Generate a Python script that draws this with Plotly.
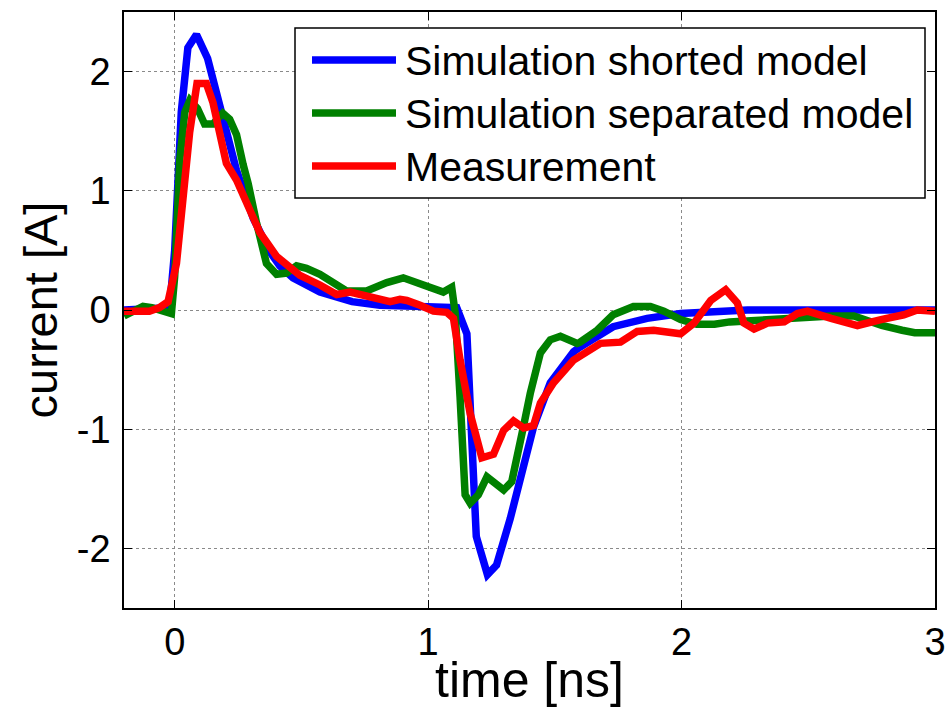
import plotly.graph_objects as go

# ---- data: current waveforms [A] versus time [ns] ----
t_shorted = [-0.2, -0.02, 0.0, 0.026, 0.052, 0.086, 0.13, 0.178, 0.244, 0.31, 0.375,
             0.415, 0.467, 0.573, 0.613, 0.70, 0.81, 1.0, 1.113, 1.153, 1.19, 1.234,
             1.27, 1.324, 1.376, 1.416, 1.482, 1.574, 1.6, 1.68, 1.73, 1.864, 1.996,
             2.26, 3.0]
i_shorted = [0.0, 0.02, 0.5, 1.66, 2.2, 2.31, 2.11, 1.72, 1.17, 0.77, 0.49,
             0.37, 0.27, 0.15, 0.12, 0.07, 0.04, 0.02, 0.02, -0.2, -1.9, -2.22,
             -2.14, -1.75, -1.31, -0.98, -0.61, -0.35, -0.31, -0.2, -0.14, -0.07, -0.03,
             0.0, 0.0]

t_separated = [-0.2, -0.16, -0.125, -0.09, -0.06, -0.047, -0.013, 0.0, 0.02, 0.04, 0.06,
               0.09, 0.118, 0.151, 0.19, 0.217, 0.244, 0.27, 0.29, 0.323, 0.362, 0.402,
               0.441, 0.481, 0.52, 0.573, 0.625, 0.678, 0.757, 0.837, 0.902, 0.942,
               0.995, 1.034, 1.06, 1.093, 1.107, 1.126, 1.146, 1.166, 1.198, 1.232,
               1.265, 1.298, 1.33, 1.357, 1.376, 1.403, 1.443, 1.482, 1.522, 1.588,
               1.6, 1.667, 1.73, 1.81, 1.877, 1.93, 1.996, 2.06, 2.13, 2.19, 2.32,
               2.457, 2.59, 2.68, 2.79, 2.87, 2.92, 3.0]
i_separated = [-0.05, 0.0, 0.03, 0.02, 0.0, -0.01, -0.03, 0.28, 1.26, 1.66, 1.76,
               1.69, 1.56, 1.56, 1.65, 1.6, 1.47, 1.22, 1.06, 0.73, 0.39, 0.3,
               0.31, 0.37, 0.35, 0.3, 0.23, 0.16, 0.16, 0.23, 0.27, 0.24,
               0.21, 0.18, 0.15, 0.19, -0.03, -0.73, -1.55, -1.62, -1.55, -1.4,
               -1.45, -1.51, -1.44, -1.2, -0.98, -0.7, -0.36, -0.25, -0.22, -0.28,
               -0.27, -0.17, -0.04, 0.03, 0.03, -0.01, -0.08, -0.12, -0.12, -0.1, -0.08,
               -0.06, -0.05, -0.05, -0.13, -0.17, -0.19, -0.19]

t_measured = [-0.2, -0.1, -0.06, -0.026, 0.007, 0.033, 0.059, 0.088, 0.125, 0.151, 0.178,
              0.204, 0.244, 0.283, 0.336, 0.402, 0.441, 0.481, 0.494, 0.573, 0.639,
              0.692, 0.771, 0.85, 0.889, 0.916, 0.968, 1.021, 1.074, 1.1, 1.126,
              1.166, 1.212, 1.258, 1.298, 1.337, 1.377, 1.416, 1.443, 1.495, 1.574,
              1.627, 1.68, 1.759, 1.825, 1.89, 1.996, 2.049, 2.115, 2.174, 2.22,
              2.246, 2.286, 2.339, 2.405, 2.457, 2.497, 2.59, 2.694, 2.787, 2.877,
              2.93, 3.0]
i_measured = [-0.01, -0.01, 0.02, 0.07, 0.39, 0.95, 1.49, 1.9, 1.9, 1.74, 1.49,
              1.23, 1.09, 0.9, 0.65, 0.45, 0.38, 0.31, 0.29, 0.21, 0.13,
              0.15, 0.11, 0.07, 0.09, 0.08, 0.04, -0.01, -0.02, -0.07, -0.42,
              -0.87, -1.24, -1.21, -1.01, -0.93, -0.99, -0.97, -0.78, -0.61, -0.42,
              -0.35, -0.28, -0.27, -0.18, -0.17, -0.2, -0.11, 0.08, 0.17, 0.06,
              -0.11, -0.16, -0.11, -0.1, -0.03, -0.01, -0.07, -0.13, -0.08, -0.04,
              0.0, -0.01]

series_names = ["Simulation shorted model", "Simulation separated model", "Measurement"]
series_colors = ["#0000ff", "#008000", "#ff0000"]

x_ticks = [0, 1, 2, 3]
y_ticks = [-2, -1, 0, 1, 2]
x_title = "time [ns]"
y_title = "current [A]"

FONT = "Liberation Sans, Arial, sans-serif"
LINE_W = 7.5

fig = go.Figure()
for t, i, name, col in zip([t_shorted, t_separated, t_measured],
                           [i_shorted, i_separated, i_measured],
                           series_names, series_colors):
    fig.add_trace(go.Scatter(x=t, y=i, mode="lines", name=name,
                             line=dict(color=col, width=LINE_W),
                             showlegend=False))

axis_common = dict(
    showline=True, linecolor="black", linewidth=1.5, mirror="allticks",
    ticks="inside", ticklen=8, tickwidth=1.2, tickcolor="black",
    showgrid=True, gridcolor="#8a8a8a", gridwidth=1, griddash="dot",
    zeroline=False, tickfont=dict(family=FONT, size=38, color="black"),
    automargin=False,
)

fig.update_xaxes(range=[-0.2, 3.0], tickvals=x_ticks, ticktext=[str(v) for v in x_ticks],
                 ticklabelstandoff=0, **axis_common)
fig.update_yaxes(range=[-2.5, 2.5], tickvals=y_ticks, ticktext=[str(v) for v in y_ticks],
                 title=dict(text=y_title, font=dict(family=FONT, size=47, color="black"),
                            standoff=4),
                 ticklabelstandoff=4, **axis_common)

# ---- legend box and x-axis title placed in paper coordinates ----
W, H = 947, 715
ML, MR, MT, MB = 124, 12, 12, 107
PW, PH = W - ML - MR, H - MT - MB


def px(xp):
    return (xp - ML) / PW


def py(yp):
    return 1 - (yp - MT) / PH


shapes = [dict(type="rect", xref="paper", yref="paper",
               x0=px(295), x1=px(925), y0=py(198), y1=py(28),
               line=dict(color="black", width=1.5), fillcolor="white", layer="above")]
annotations = [dict(text=x_title, xref="paper", yref="paper", x=0.5, y=py(680),
                    xanchor="center", yanchor="middle", showarrow=False,
                    font=dict(family=FONT, size=50, color="black"))]
row_y = [60, 113, 166]
for name, col, ry in zip(series_names, series_colors, row_y):
    shapes.append(dict(type="line", xref="paper", yref="paper",
                       x0=px(312), x1=px(396), y0=py(ry), y1=py(ry),
                       line=dict(color=col, width=LINE_W), layer="above"))
    annotations.append(dict(text=name, xref="paper", yref="paper",
                            x=px(403), y=py(ry + 1), xanchor="left", yanchor="middle",
                            showarrow=False,
                            font=dict(family=FONT, size=41, color="black")))

fig.update_layout(
    width=W, height=H,
    margin=dict(l=ML, r=MR, t=MT, b=MB),
    paper_bgcolor="white", plot_bgcolor="white",
    shapes=shapes, annotations=annotations,
    showlegend=False,
)

fig.write_html("out.html")
